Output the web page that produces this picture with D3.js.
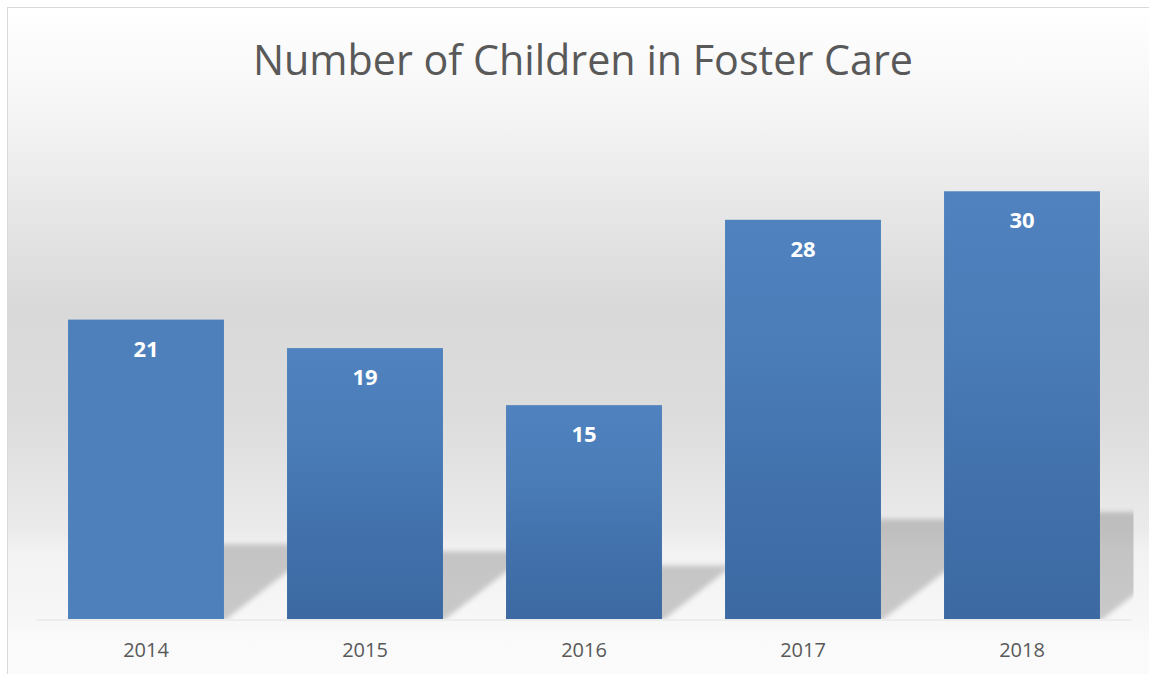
<!DOCTYPE html>
<html>
<head>
<meta charset="utf-8">
<script src="https://cdn.jsdelivr.net/npm/d3@7"></script>
<style>
  body { margin: 0; background: #fff; }
  text { font-family: "Open Sans", sans-serif; }
</style>
</head>
<body>
<svg class="chart"></svg>
<script>
const years = ['2014', '2015', '2016', '2017', '2018'];
const children = [21, 19, 15, 28, 30];
const yDomain = [0, 35];
const title = 'Number of Children in Foster Care';

const [width, height] = [1149, 674];
const svg = d3.select('.chart').attr('width', width).attr('height', height);
const defs = svg.append('defs');

// chart background: white -> grey -> white
const bg = defs.append('linearGradient').attr('id', 'bg')
  .attr('x1', 0).attr('y1', 0).attr('x2', 0).attr('y2', 1);
[[0, '#ffffff'], [0.14, '#f6f6f6'], [0.44, '#d9d9d9'], [0.6, '#dcdcdc'],
 [0.77, '#ebebeb'], [0.8, '#f2f2f2'], [0.9, '#f7f7f7'], [0.93, '#fafafa'], [1, '#fbfbfb']]
  .forEach(([o, c]) => bg.append('stop').attr('offset', o).attr('stop-color', c));

const barGrad = defs.append('linearGradient').attr('id', 'bar')
  .attr('x1', 0).attr('y1', 0).attr('x2', 0).attr('y2', 1);
[[0, '#4f82be'], [0.35, '#4a7cb8'], [0.7, '#4170aa'], [1, '#3c69a2']]
  .forEach(([o, c]) => barGrad.append('stop').attr('offset', o).attr('stop-color', c));

defs.append('filter').attr('id', 'blur')
  .attr('x', -0.2).attr('y', -0.2).attr('width', 1.4).attr('height', 1.4)
  .append('feGaussianBlur').attr('stdDeviation', 2.5);

svg.append('rect')
  .attr('x', 7.5).attr('y', 7.5).attr('width', 1150).attr('height', 680)
  .attr('fill', 'url(#bg)').attr('stroke', '#d9d9d9');

const margin = { left: 36.5, right: 1131.5, top: 120, bottom: 619 };
const x = d3.scaleBand().domain(years).range([margin.left, margin.right])
  .paddingInner(0.288).paddingOuter(0.144);
const y = d3.scaleLinear().domain(yDomain).range([margin.bottom, margin.top]);

defs.append('clipPath').attr('id', 'plot').append('rect')
  .attr('x', margin.left).attr('y', margin.top)
  .attr('width', margin.right - margin.left + 2).attr('height', margin.bottom - margin.top);

// floor shadows: bars squashed and skewed to the right
const skew = 1.32;
const shadowRatio = 0.25;
svg.append('g').attr('clip-path', 'url(#plot)')
  .selectAll('path')
  .data(years)
  .join('path')
  .attr('d', (d, i) => {
    const x0 = x(d);
    const x1 = x0 + x.bandwidth();
    const h = (y(0) - y(children[i])) * shadowRatio;
    const dx = h * skew;
    return `M${x0},${y(0) + 2}L${x1},${y(0) + 2}L${x1 + dx},${y(0) - h}L${x0 + dx},${y(0) - h}Z`;
  })
  .attr('fill', '#000').attr('fill-opacity', 0.19)
  .attr('filter', 'url(#blur)');

svg.append('line')
  .attr('x1', margin.left).attr('x2', margin.right)
  .attr('y1', y(0) + 1).attr('y2', y(0) + 1)
  .attr('stroke', '#ececec').attr('stroke-width', 2);

svg.append('g')
  .selectAll('rect')
  .data(years)
  .join('rect')
  .attr('x', (d) => x(d))
  .attr('y', (d, i) => y(children[i]))
  .attr('width', x.bandwidth())
  .attr('height', (d, i) => y(0) - y(children[i]))
  .attr('fill', (d, i) => (i === 0 ? '#4e80bc' : 'url(#bar)'));

svg.append('g')
  .selectAll('text')
  .data(years)
  .join('text')
  .attr('x', (d) => x(d) + x.bandwidth() / 2)
  .attr('y', (d, i) => y(children[i]) + 37)
  .attr('text-anchor', 'middle')
  .attr('font-size', 22).attr('font-weight', 700)
  .attr('fill', '#fff')
  .text((d, i) => children[i]);

const axis = svg.append('g')
  .attr('transform', `translate(0,${y(0)})`)
  .call(d3.axisBottom(x).tickSize(0).tickPadding(24));
axis.select('.domain').remove();
axis.selectAll('text')
  .attr('font-size', 20).attr('fill', '#595959')
  .attr('font-family', '"Open Sans", sans-serif');

svg.append('text')
  .attr('x', 583).attr('y', 75)
  .attr('text-anchor', 'middle')
  .attr('font-size', 42).attr('fill', '#595959')
  .attr('textLength', 660).attr('lengthAdjust', 'spacingAndGlyphs')
  .text(title);
</script>
</body>
</html>
